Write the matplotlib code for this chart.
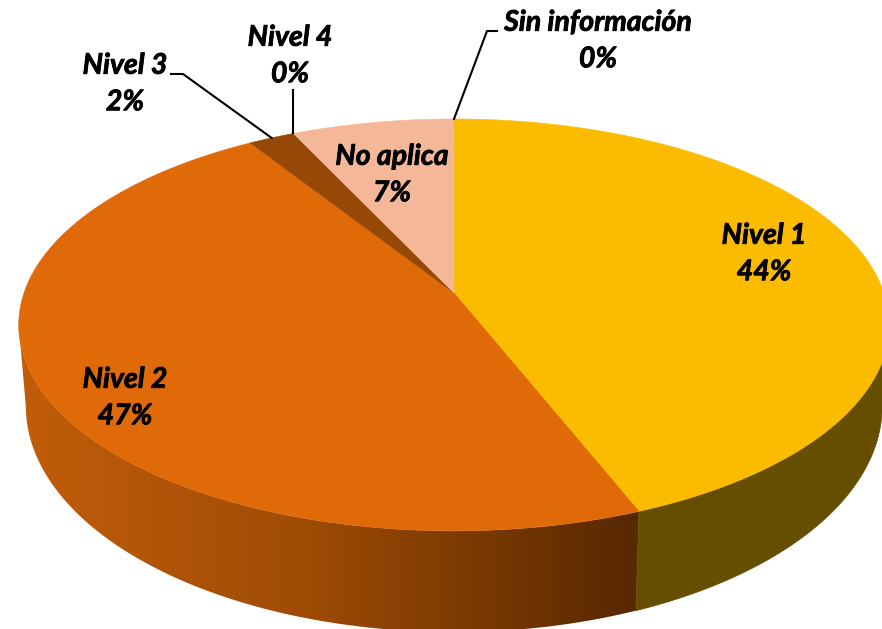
from matplotlib import pyplot as plt
from matplotlib.colors import LinearSegmentedColormap
from matplotlib.patches import Polygon
import matplotlib.patheffects as pe
import numpy as np

labels = ["Nivel 1", "Nivel 2", "Nivel 3", "Nivel 4", "No aplica", "Sin información"]
values = [44, 47, 2, 0, 7, 0]
colors = ["#FBBC00", "#E06A08", "#964806", "#7A7A7A", "#F4B899", "#4A7EBB"]

label_x = [764, 125, 125, 290, 392, 598]
label_y = [254, 398, 84, 56, 175, 41]

wall_right = "#654E00"
wall_left_stops = [(0, "#C45E0A"), (300, "#A04C06"), (635, "#582800"), (680, "#582800")]


# perspective disc: fraction of the circle (clockwise from the top) to pixels
def disc(frac, cy=293.0, rx=430.0, ry=201.0):
    ang = 2 * np.pi * np.asarray(frac)
    u = np.sin(ang)
    v = np.cos(ang)
    w = 1 + 0.155 * v
    return 454 + rx * u / w, cy - ry * v / w


def wall_poly(f0, f1):
    t = np.linspace(f0, f1, 300)
    xa, ya = disc(t)
    xb, yb = disc(t, cy=371, rx=423, ry=220.6)
    return np.vstack([np.column_stack([xa, ya]), np.column_stack([xb, yb])[::-1]])


fig = plt.figure(figsize=(8.82, 6.29), dpi=100)
ax = fig.add_axes([0, 0, 1, 1])
ax.axis("off")

edges = np.cumsum([0] + values) / sum(values)

# side walls, only Nivel 1 and Nivel 2 can be seen from the front
# 0.275 and 0.725 are where the wall turns out of sight, going further folds the polygon
x0, x1 = wall_left_stops[0][0], wall_left_stops[-1][0]
stops = [((x - x0) / (x1 - x0), c) for x, c in wall_left_stops]
cmap = LinearSegmentedColormap.from_list("wall", stops)
grad = np.linspace(0, 1, 512).reshape(1, -1)
im = ax.imshow(grad, cmap=cmap, extent=(x0, x1, 640, 300), aspect="auto", zorder=1)
left = Polygon(wall_poly(edges[1], 0.725), closed=True, transform=ax.transData, fc="none", ec="none")
ax.add_patch(left)
im.set_clip_path(left)

ax.add_patch(Polygon(wall_poly(0.275, edges[1]), closed=True, fc=wall_right, ec=wall_right, lw=0.5, zorder=1.5))

# top face
for i in range(len(values)):
    if values[i] == 0:
        continue
    t = np.linspace(edges[i], edges[i + 1], 300)
    xs, ys = disc(t)
    pts = np.column_stack([np.r_[454, xs], np.r_[293, ys]])
    ax.add_patch(Polygon(pts, closed=True, fc=colors[i], ec=colors[i], lw=0.4, zorder=2))

# leader lines
tip3 = disc((edges[2] + edges[3]) / 2)
tip4 = disc(edges[3])
tip6 = disc(0.0)
ax.plot([171, 183, tip3[0]], [74, 74, tip3[1]], color="black", lw=1.5, zorder=3)
ax.plot([tip4[0], tip4[0]], [90, tip4[1]], color="black", lw=1.5, zorder=3)
ax.plot([497, 487, tip6[0]], [31, 31, tip6[1]], color="black", lw=1.5, zorder=3)

for i in range(len(labels)):
    ax.text(label_x[i], label_y[i], "%s\n%d%%" % (labels[i], values[i]), ha="center", va="center",
            family="Lato", weight="bold", style="italic", fontsize=20.5, linespacing=1.5,
            color="black", zorder=4,
            path_effects=[pe.withStroke(linewidth=0.6, foreground="black")])

ax.set_xlim(0, 882)
ax.set_ylim(629, 0)
fig.savefig("out.png", dpi=100)
